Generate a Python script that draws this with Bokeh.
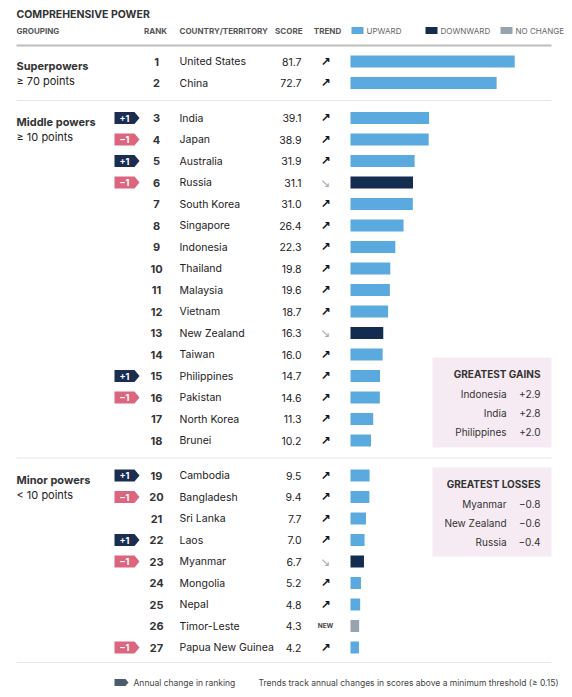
from bokeh.plotting import figure
from bokeh.models import Range1d, ColumnDataSource
from bokeh.core.properties import value
from bokeh.embed import file_html
from bokeh.resources import INLINE

# ---------------- data ----------------
countries = ["United States", "China", "India", "Japan", "Australia", "Russia",
             "South Korea", "Singapore", "Indonesia", "Thailand", "Malaysia",
             "Vietnam", "New Zealand", "Taiwan", "Philippines", "Pakistan",
             "North Korea", "Brunei", "Cambodia", "Bangladesh", "Sri Lanka",
             "Laos", "Myanmar", "Mongolia", "Nepal", "Timor-Leste",
             "Papua New Guinea"]
scores = [81.7, 72.7, 39.1, 38.9, 31.9, 31.1, 31.0, 26.4, 22.3, 19.8, 19.6,
          18.7, 16.3, 16.0, 14.7, 14.6, 11.3, 10.2, 9.5, 9.4, 7.7, 7.0, 6.7,
          5.2, 4.8, 4.3, 4.2]
ranks = list(range(1, 28))
trends = ["up", "up", "up", "up", "up", "down", "up", "up", "up", "up", "up",
          "up", "down", "up", "up", "up", "up", "up", "up", "up", "up", "up",
          "down", "up", "up", "new", "up"]
rank_changes = [0, 0, 1, -1, 1, -1, 0, 0, 0, 0, 0, 0, 0, 0, 1, -1, 0, 0,
                1, -1, 0, 1, -1, 0, 0, 0, -1]
group_sizes = [2, 16, 9]
group_names = ["Superpowers", "Middle powers", "Minor powers"]
group_subs = ["≥ 70 points", "≥ 10 points", "< 10 points"]
gain_names = ["Indonesia", "India", "Philippines"]
gain_values = ["+2.9", "+2.8", "+2.0"]
loss_names = ["Myanmar", "New Zealand", "Russia"]
loss_values = ["−0.8", "−0.6", "−0.4"]
legend_labels = ["UPWARD", "DOWNWARD", "NO CHANGE"]
title_text = "COMPREHENSIVE POWER"
footer_badge_text = "Annual change in ranking"
footer_note = "Trends track annual changes in scores above a minimum threshold (≥ 0.15)"

# ---------------- style ----------------
FONT = value("Inter")
C_UP = "#5aaae0"
C_DOWN = "#152c51"
C_NEW = "#97a3af"
C_PLUS = "#1c2d52"
C_MINUS = "#dc6580"
C_BOX = "#f6ebf2"
C_TEXT = "#222222"
C_SEMI = "#333333"
C_HEAD = "#555555"
bar_color = {"up": C_UP, "down": C_DOWN, "new": C_NEW}

# layout (page pixels)
ROW0, PITCH, GAP = 61, 21.5, 13.5
row_y, group_first, group_last = [], [], []
y = ROW0
for g in group_sizes:
    group_first.append(y)
    for _ in range(g):
        row_y.append(y)
        y += PITCH
    group_last.append(y - PITCH)
    y += GAP

W, H = 566, 692
p = figure(width=W, height=H, x_range=Range1d(0, W), y_range=Range1d(H, 0),
           output_backend="svg", toolbar_location=None, min_border=0,
           x_axis_location=None, y_axis_location=None, outline_line_color=None,
           background_fill_color="white", border_fill_color="white")
p.grid.visible = False

# score scale: 0 at x=350, ~2.01 px per point
X0, PXU = 350, 2.01
p.extra_x_ranges = {"score": Range1d((0 - X0) / PXU, (W - X0) / PXU)}

# ---------- title & header ----------
p.text(x=[16], y=[14], text=[title_text], text_font=FONT, text_font_size="10.5px",
       text_font_style="bold", text_color=C_SEMI, text_baseline="middle")
hdr = dict(text_font=FONT, text_font_size="8px", text_font_style="bold",
           text_color=C_HEAD, text_baseline="middle")
p.text(x=[16], y=[30], text=["GROUPING"], text_align="left", **hdr)
p.text(x=[155], y=[30], text=["RANK"], text_align="center", **hdr)
p.text(x=[179], y=[30], text=["COUNTRY/TERRITORY"], text_align="left", **hdr)
p.text(x=[302], y=[30], text=["SCORE"], text_align="right", **hdr)
p.text(x=[327], y=[30], text=["TREND"], text_align="center", **hdr)

sw_x = [357, 431, 506]
p.rect(x=sw_x, y=[30] * 3, width=12, height=7, fill_color=[C_UP, C_DOWN, C_NEW],
       line_color=None)
p.text(x=[x + 9 for x in sw_x], y=[30] * 3, text=legend_labels, text_font=FONT,
       text_font_size="8px", text_color="#666666", text_baseline="middle")

# separators
p.segment(x0=[16], x1=[551], y0=[45], y1=[45], line_color="#bdbdbd", line_width=2)
seps = [(group_last[i] + group_first[i + 1]) / 2 for i in range(len(group_sizes) - 1)]
seps.append(row_y[-1] + 15)
p.segment(x0=[16] * len(seps), x1=[551] * len(seps), y0=seps, y1=seps,
          line_color="#e6e6e6", line_width=1)

# ---------- boxes ----------
p.quad(left=[432, 432], right=[551, 551],
       top=[357, 467], bottom=[447, 556], fill_color=C_BOX, line_color=None)

# ---------- groups ----------
p.text(x=[16] * 3, y=[g + 4 for g in group_first], text=group_names, text_font=FONT,
       text_font_size="11px", text_font_style="bold", text_color=C_SEMI,
       text_baseline="middle")
p.text(x=[16] * 3, y=[g + 19 for g in group_first], text=group_subs, text_font=FONT,
       text_font_size="11px", text_color=C_TEXT, text_baseline="middle")

# ---------- rows ----------
src = ColumnDataSource(dict(
    y=row_y, country=countries, score=scores, rank=[str(r) for r in ranks],
    score_txt=[f"{s:.1f}" for s in scores],
    color=[bar_color[t] for t in trends]))

p.text(x=156, y="y", text="rank", source=src, text_font=FONT, text_font_size="11px",
       text_font_style="bold", text_color=C_SEMI, text_align="center",
       text_baseline="middle")
p.text(x=179, y="y", text="country", source=src, text_font=FONT,
       text_font_size="10.5px", text_color=C_TEXT, text_baseline="middle")
p.text(x=301, y="y", text="score_txt", source=src, text_font=FONT,
       text_font_size="10.5px", text_color=C_TEXT, text_align="right",
       text_baseline="middle")
p.hbar(y="y", left=0, right="score", height=12, fill_color="color", line_color=None,
       source=src, x_range_name="score")

# trend symbols
up_y = [row_y[i] for i, t in enumerate(trends) if t == "up"]
dn_y = [row_y[i] for i, t in enumerate(trends) if t == "down"]
nw_y = [row_y[i] for i, t in enumerate(trends) if t == "new"]
p.text(x=[325] * len(up_y), y=up_y, text=["↗"] * len(up_y), text_font=value("DejaVu Sans"),
       text_font_size="12px", text_font_style="bold", text_color="#111111",
       text_align="center", text_baseline="middle")
p.text(x=[325] * len(dn_y), y=dn_y, text=["↘"] * len(dn_y), text_font=value("DejaVu Sans"),
       text_font_size="12px", text_color="#aaaaaa", text_align="center",
       text_baseline="middle")
p.text(x=[325] * len(nw_y), y=nw_y, text=["NEW"] * len(nw_y), text_font=FONT,
       text_font_size="6.5px", text_font_style="bold", text_color="#444444",
       text_align="center", text_baseline="middle")

# rank-change badges
def badge_shape(x0, yc, w=20, tip=5, h=12):
    return ([x0, x0 + w, x0 + w + tip, x0 + w, x0],
            [yc - h / 2, yc - h / 2, yc, yc + h / 2, yc + h / 2])

bxs, bys, bcol, btxt, bty = [], [], [], [], []
for i, c in enumerate(rank_changes):
    if c == 0:
        continue
    xs, ys = badge_shape(114, row_y[i])
    bxs.append(xs)
    bys.append(ys)
    bcol.append(C_PLUS if c > 0 else C_MINUS)
    btxt.append(f"+{c}" if c > 0 else f"−{-c}")
    bty.append(row_y[i])
p.patches(xs=bxs, ys=bys, fill_color=bcol, line_color=None)
p.text(x=[124] * len(btxt), y=bty, text=btxt, text_font=FONT, text_font_size="9px",
       text_font_style="bold", text_color="white", text_align="center",
       text_baseline="middle")

# ---------- callout text ----------
def callout(top, title, names, vals):
    p.text(x=[540], y=[top + 16], text=[title], text_font=FONT, text_font_size="10px",
           text_font_style="bold", text_color=C_SEMI, text_align="right",
           text_baseline="middle")
    ys = [top + 36 + 19 * k for k in range(len(names))]
    p.text(x=[506] * len(names), y=ys, text=names, text_font=FONT,
           text_font_size="10px", text_color=C_SEMI, text_align="right",
           text_baseline="middle")
    p.text(x=[540] * len(vals), y=ys, text=vals, text_font=FONT,
           text_font_size="10px", text_color=C_SEMI, text_align="right",
           text_baseline="middle")

callout(357, "GREATEST GAINS", gain_names, gain_values)
callout(467, "GREATEST LOSSES", loss_names, loss_values)

# ---------- footer ----------
fx, fy = badge_shape(114, 682, w=11, tip=3, h=7)
p.patch(x=fx, y=fy, fill_color="#4b5b6b", line_color=None)
p.text(x=[133], y=[682], text=[footer_badge_text], text_font=FONT,
       text_font_size="8.5px", text_color="#444444", text_baseline="middle")
p.text(x=[558], y=[682], text=[footer_note], text_font=FONT, text_font_size="8.5px",
       text_color="#444444", text_align="right", text_baseline="middle")

open("out.html", "w").write(file_html(p, INLINE))
